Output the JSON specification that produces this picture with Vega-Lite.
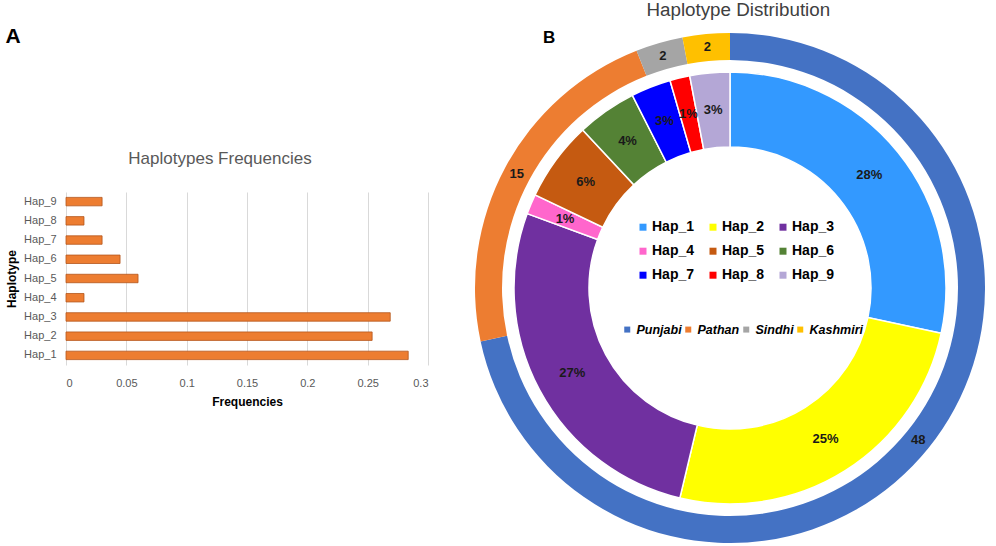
{
  "$schema": "https://vega.github.io/schema/vega-lite/v6.json",
  "padding": {"left": 5, "top": 1, "right": 0, "bottom": 0},
  "background": "white",
  "datasets": {
    "haps": [
      {"hap": "Hap_1", "count": 19, "freq": 0.2836, "pct": "28%"},
      {"hap": "Hap_2", "count": 17, "freq": 0.2537, "pct": "25%"},
      {"hap": "Hap_3", "count": 18, "freq": 0.2687, "pct": "27%"},
      {"hap": "Hap_4", "count": 1, "freq": 0.0149, "pct": "1%"},
      {"hap": "Hap_5", "count": 4, "freq": 0.0597, "pct": "6%"},
      {"hap": "Hap_6", "count": 3, "freq": 0.0448, "pct": "4%"},
      {"hap": "Hap_7", "count": 2, "freq": 0.0299, "pct": "3%"},
      {"hap": "Hap_8", "count": 1, "freq": 0.0149, "pct": "1%"},
      {"hap": "Hap_9", "count": 2, "freq": 0.0299, "pct": "3%"}
    ],
    "pops": [
      {"pop": "Punjabi", "count": 48, "ord": 1},
      {"pop": "Pathan", "count": 15, "ord": 2},
      {"pop": "Sindhi", "count": 2, "ord": 3},
      {"pop": "Kashmiri", "count": 2, "ord": 4}
    ]
  },
  "title": {"text": "Haplotype Distribution", "anchor": "middle", "frame": "bounds", "dx": 243, "fontSize": 18.8, "fontWeight": "normal", "font": "Liberation Sans", "color": "#404040", "offset": 5.5},
  "config": {"view": {"stroke": null}, "concat": {"spacing": 47}, "font": "Liberation Sans"},
  "hconcat": [
    {
      "title": {"text": "A", "anchor": "start", "frame": "bounds", "fontSize": 21, "fontWeight": "bold", "color": "black", "offset": 103.5},
      "vconcat": [
        {
          "width": 362,
          "height": 173,
          "title": {"text": "Haplotypes Frequencies", "fontSize": 17, "fontWeight": "normal", "color": "#595959", "anchor": "middle", "dx": -27, "offset": 24},
          "data": {"name": "haps"},
          "mark": {"type": "bar", "color": "#ED7D31", "stroke": "#B4561C", "strokeWidth": 0.8},
          "encoding": {
            "y": {
              "field": "hap", "type": "nominal", "sort": "descending",
              "scale": {"paddingInner": 0.56, "paddingOuter": 0.28},
              "axis": {"title": "Haplotype", "titleFontWeight": "bold", "titleFontSize": 12, "titleColor": "black", "labelFontSize": 11, "labelColor": "#595959", "ticks": false, "domain": false, "labelPadding": 10, "titlePadding": 5}
            },
            "x": {
              "field": "freq", "type": "quantitative",
              "scale": {"domain": [0, 0.3]},
              "axis": {"values": [0, 0.05, 0.1, 0.15, 0.2, 0.25, 0.3], "format": "~g", "grid": true, "gridColor": "#d9d9d9", "ticks": false, "domain": false, "labelFontSize": 11, "labelColor": "#595959", "labelPadding": 12, "title": "Frequencies", "titleFontWeight": "bold", "titleFontSize": 12, "titleColor": "black", "titlePadding": 8}
            }
          }
        }
      ]
    },
    {
      "width": 510,
      "height": 192,
      "title": {"text": "B", "anchor": "start", "dx": 68, "fontSize": 17, "fontWeight": "bold", "color": "black", "offset": -14},
      "layer": [
        {
          "data": {"name": "pops"},
          "mark": {"type": "arc", "radius": 255, "radius2": 228},
          "encoding": {
            "theta": {"field": "count", "type": "quantitative", "stack": true},
            "order": {"field": "ord"},
            "color": {
              "field": "pop", "type": "nominal",
              "scale": {"domain": ["Punjabi", "Pathan", "Sindhi", "Kashmiri"], "range": ["#4472C4", "#ED7D31", "#A5A5A5", "#FFC000"]},
              "legend": {"title": null, "orient": "none", "legendX": 146, "legendY": 131.2, "columns": 4, "direction": "horizontal", "symbolType": "square", "symbolSize": 36, "symbolStrokeWidth": 0, "labelFontSize": 12.5, "labelFontWeight": "bold", "labelFontStyle": "italic", "labelColor": "black", "columnPadding": -3, "labelOffset": 3, "padding": 0}
            }
          }
        },
        {
          "data": {"name": "pops"},
          "mark": {"type": "text", "radius": 242, "fontSize": 13, "fontWeight": "bold", "color": "#1a1a1a"},
          "encoding": {
            "theta": {"field": "count", "type": "quantitative", "stack": true},
            "order": {"field": "ord"},
            "text": {"field": "count", "type": "quantitative"}
          }
        },
        {
          "data": {"name": "haps"},
          "mark": {"type": "arc", "radius": 216, "radius2": 141, "stroke": "white", "strokeWidth": 1.5},
          "encoding": {
            "theta": {"field": "count", "type": "quantitative", "stack": true},
            "order": {"field": "hap"},
            "color": {
              "field": "hap", "type": "nominal",
              "scale": {"domain": ["Hap_1", "Hap_2", "Hap_3", "Hap_4", "Hap_5", "Hap_6", "Hap_7", "Hap_8", "Hap_9"], "range": ["#3399FF", "#FFFF00", "#7030A0", "#FF66CC", "#C55A11", "#548235", "#0000FF", "#FF0000", "#B4A7D6"]},
              "legend": {"title": null, "orient": "none", "legendX": 161, "legendY": 28.2, "columns": 3, "direction": "horizontal", "symbolType": "square", "symbolSize": 49, "symbolStrokeWidth": 0, "labelFontSize": 14, "labelFontWeight": "bold", "labelColor": "black", "columnPadding": 11, "rowPadding": 10, "labelOffset": 2, "padding": 0}
            }
          }
        },
        {
          "data": {"name": "haps"},
          "mark": {"type": "text", "radius": 179, "fontSize": 13, "fontWeight": "bold", "color": "#1a1a1a"},
          "encoding": {
            "theta": {"field": "count", "type": "quantitative", "stack": true},
            "order": {"field": "hap"},
            "text": {"field": "pct", "type": "nominal"}
          }
        }
      ],
      "resolve": {"scale": {"color": "independent", "theta": "independent"}}
    }
  ]
}
